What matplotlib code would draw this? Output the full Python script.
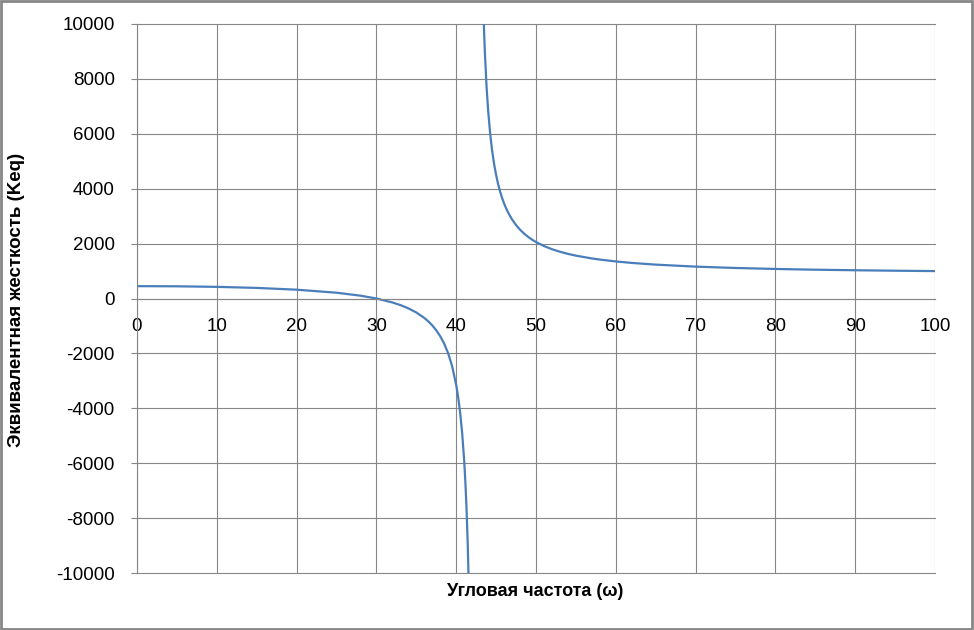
import numpy as np
import matplotlib
matplotlib.use("Agg")
import matplotlib.pyplot as plt

# значения (две ветви по обе стороны асимптоты ~42.4)
w_left = [0, 5, 10, 15, 20, 25, 28, 30, 32, 33, 34, 35, 36, 36.5, 37, 37.5, 38, 38.5, 39,
          39.5, 40, 40.25, 40.5, 40.75, 41, 41.15, 41.3, 41.45, 41.6]
k_left = [450, 444, 424, 386, 321, 211, 103, 0, -144, -239, -358, -509, -707, -832, -979,
          -1157, -1375, -1649, -2003, -2479, -3150, -3602, -4170, -4909, -5907, -6693,
          -7689, -8990, -10765]

w_right = [43.4, 43.5, 43.6, 43.8, 44, 44.25, 44.5, 44.75, 45, 45.25, 45.5, 45.75, 46,
           46.25, 46.5, 47, 47.5, 48, 48.5, 49, 49.5, 50, 51, 52, 53, 54, 55, 57, 58,
           60, 62, 65, 70, 75, 80, 85, 90, 95, 100]
k_right = [10594, 9681, 8923, 7739, 6856, 6025, 5394, 4899, 4500, 4172, 3897, 3664, 3463,
           3289, 3136, 2880, 2675, 2507, 2367, 2248, 2146, 2057, 1911, 1796, 1703, 1626,
           1561, 1459, 1418, 1350, 1296, 1234, 1161, 1112, 1076, 1049, 1029, 1012, 999]

x_ticks = list(range(0, 101, 10))
y_ticks = list(range(-10000, 10001, 2000))

grid_col = "#868686"
line_col = "#4A7EBB"

plt.rcParams["font.family"] = ["Liberation Sans", "DejaVu Sans"]
plt.rcParams["axes.unicode_minus"] = False

fig = plt.figure(figsize=(9.74, 6.3), dpi=100)
ax = fig.add_axes([137 / 974, 1 - 573 / 630, (935 - 137) / 974, (573 - 24) / 630])

ax.plot(w_left, k_left, color=line_col, lw=1.6)
ax.plot(w_right, k_right, color=line_col, lw=1.6)

ax.set_xlim(0, 100)
ax.set_ylim(-10000, 10000)
ax.set_xticks(x_ticks)
ax.set_yticks(y_ticks)

ax.grid(True, color=grid_col, lw=0.8)
for gl in ax.get_xgridlines() + ax.get_ygridlines():
    gl.set_clip_on(False)
ax.set_axisbelow(True)

for s in ["top", "right"]:
    ax.spines[s].set_visible(False)
ax.spines["left"].set_color(grid_col)
ax.spines["left"].set_linewidth(0.8)
ax.spines["bottom"].set_position(("data", 0))
ax.spines["bottom"].set_color(grid_col)
ax.spines["bottom"].set_linewidth(0.8)

ax.tick_params(axis="y", length=4, width=0.8, color=grid_col, pad=12, labelsize=13.5)
ax.tick_params(axis="x", length=0, pad=14, labelsize=13.5)

fig.text(17 / 974, 1 - 300 / 630, "Эквивалентная жесткость (Keq)", rotation=90,
         ha="center", va="center", fontsize=13.5, fontweight="bold")
fig.text(535 / 974, 1 - 591 / 630, "Угловая частота (ω)", ha="center", va="center",
         fontsize=13, fontweight="bold")

# рамка всей области диаграммы
fig.patches.append(plt.Rectangle((0.001, 0.002), 0.997, 0.996, transform=fig.transFigure,
                                 fill=False, edgecolor=grid_col, lw=2))

fig.savefig("out.png", dpi=100)
